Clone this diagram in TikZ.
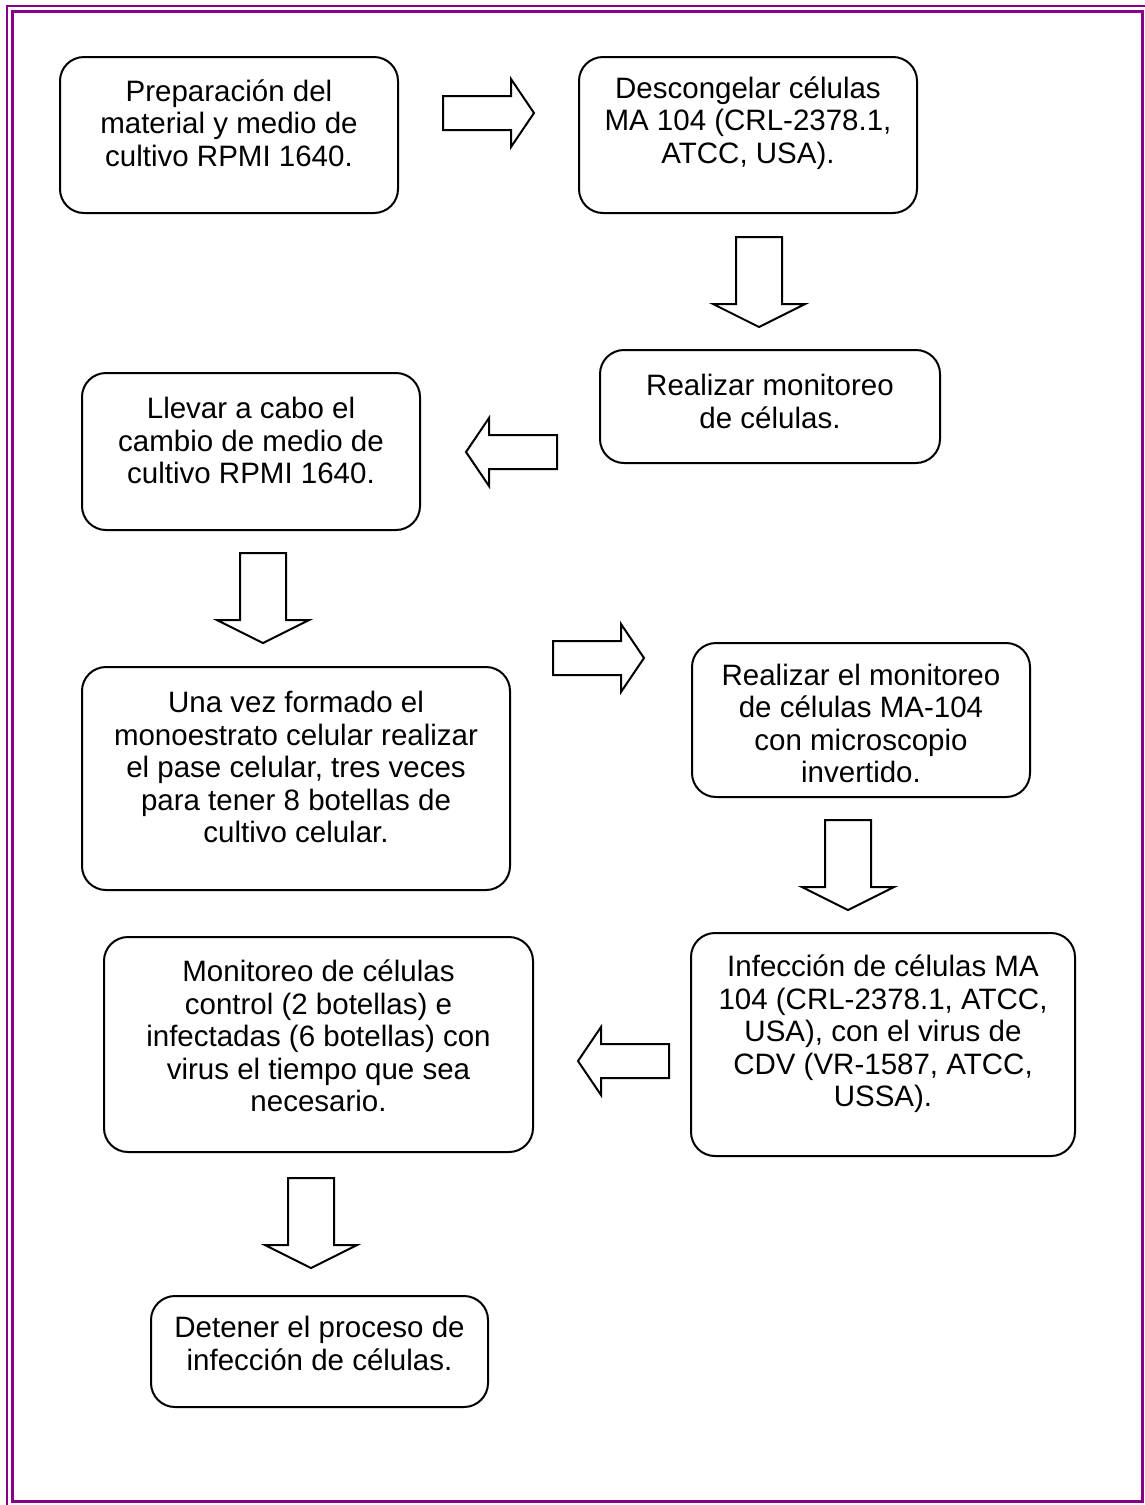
\documentclass[tikz,border=0pt]{standalone}
\usepackage{fontspec}
\setmainfont{Liberation Sans}
\definecolor{framepurple}{RGB}{135,0,140}
\tikzset{
  stepbox/.style={draw, line width=2pt, rounded corners=24pt},
  steptext/.style={align=center, font=\fontsize{29.5}{32.5}\selectfont},
  arrowline/.style={draw, line width=2pt, fill=white, line join=miter},
  pics/harrow/.style={code={
    \draw[arrowline] (0,-17) -- (68,-17) -- (68,-34) -- (91,0) -- (68,34) -- (68,17) -- (0,17) -- cycle;}},
  pics/varrow/.style={code={
    \draw[arrowline] (0,-23) -- (67,-23) -- (67,-46) -- (90,0) -- (67,46) -- (67,23) -- (0,23) -- cycle;}}
}
\begin{document}
\begin{tikzpicture}[x=1pt, y=-1pt]
  \useasboundingbox (0,0) rectangle (1144,1505);
  % page frame
  \draw[framepurple, line width=2pt] (7,1510) -- (7,6) -- (1150,6);
  \draw[framepurple, line width=3pt] (12.5,11.5) rectangle (1142,1501);

  % boxes
  \node[stepbox, minimum width=338pt, minimum height=156pt] (prep) at (229,135) {};
  \node[stepbox, minimum width=338pt, minimum height=156pt] (thaw) at (748,135) {};
  \node[stepbox, minimum width=340pt, minimum height=113pt] (mon1) at (770,406.5) {};
  \node[stepbox, minimum width=338pt, minimum height=157pt] (medium) at (251,451.5) {};
  \node[stepbox, minimum width=428pt, minimum height=223pt] (pass) at (296,778.5) {};
  \node[stepbox, minimum width=338pt, minimum height=154pt] (mon2) at (861,720) {};
  \node[stepbox, minimum width=384pt, minimum height=223pt] (infect) at (883,1044.5) {};
  \node[stepbox, minimum width=429pt, minimum height=215pt] (mon3) at (318.5,1044.5) {};
  \node[stepbox, minimum width=337pt, minimum height=111pt] (stop) at (319.5,1351.5) {};

  % texts
  \node[steptext] (prep-t) at (229,123) {Preparación del\\material y medio de\\cultivo RPMI 1640.};
  \node[steptext] (thaw-t) at (748,123) {Descongelar células\\MA 104 (CRL-2378.1,\\ATCC, USA).};
  \node[steptext] (mon1-t) at (770,401.5) {Realizar monitoreo\\de células.};
  \node[steptext] (medium-t) at (251,440.5) {Llevar a cabo el\\cambio de medio de\\cultivo RPMI 1640.};
  \node[steptext] (pass-t) at (296,767) {Una vez formado el\\monoestrato celular realizar\\el pase celular, tres veces\\para tener 8 botellas de\\cultivo celular.};
  \node[steptext] (mon2-t) at (861,723.5) {Realizar el monitoreo\\de células MA-104\\con microscopio\\invertido.};
  \node[steptext] (infect-t) at (883,1034) {Infección de células MA\\104 (CRL-2378.1, ATCC,\\USA), con el virus de\\CDV (VR-1587, ATCC,\\USSA).};
  \node[steptext] (mon3-t) at (318.5,1036) {Monitoreo de células\\control (2 botellas) e\\infectadas (6 botellas) con\\virus el tiempo que sea\\necesario.};
  \node[steptext] (stop-t) at (319.5,1343.5) {Detener el proceso de\\infección de células.};

  % block arrows
  \pic at (443,113) {harrow};
  \pic[rotate=-90] at (759,237) {varrow};
  \pic[rotate=180] at (557,452) {harrow};
  \pic[rotate=-90] at (263,553) {varrow};
  \pic at (553,658) {harrow};
  \pic[rotate=-90] at (848,820) {varrow};
  \pic[rotate=180] at (669,1061) {harrow};
  \pic[rotate=-90] at (311,1178) {varrow};
\end{tikzpicture}
\end{document}
